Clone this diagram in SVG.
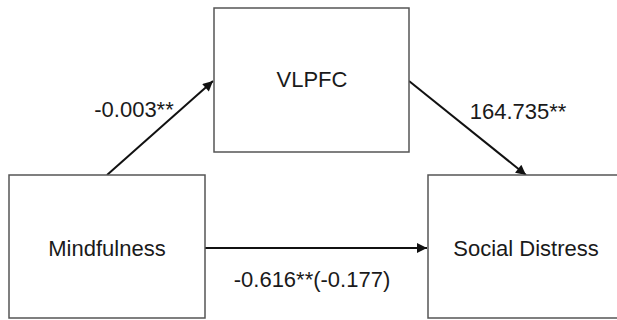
<svg xmlns="http://www.w3.org/2000/svg" width="617" height="320" viewBox="0 0 617 320">
<style>
.box{fill:#fff;stroke:#555;stroke-width:1.5}
.lbl{font-family:"Liberation Sans",Arial,sans-serif;font-size:22px;fill:#1a1a1a;text-anchor:middle}
.edge{stroke:#111;stroke-width:2;fill:none;marker-end:url(#ah)}
</style>
<defs>
<marker id="ah" viewBox="0 0 10 10" refX="10" refY="5" markerWidth="6" markerHeight="5" markerUnits="strokeWidth" orient="auto">
<path d="M0,0 L10,5 L0,10 z" fill="#111"/>
</marker>
</defs>
<rect width="617" height="320" fill="#fff"/>
<g id="connectors">
<line class="edge" x1="107" y1="175" x2="213" y2="81"/>
<line class="edge" x1="409" y1="81" x2="526" y2="175"/>
<line class="edge" x1="205" y1="248" x2="427" y2="248"/>
<text class="lbl" x="134" y="117">-0.003**</text>
<text class="lbl" x="518" y="119">164.735**</text>
<text class="lbl" x="312" y="287">-0.616**(-0.177)</text>
</g>
<g id="vlpfc">
<rect class="box" x="214" y="8" width="195" height="144"/>
<text class="lbl" x="312" y="87">VLPFC</text>
</g>
<g id="mindfulness">
<rect class="box" x="9" y="175" width="196" height="143"/>
<text class="lbl" x="107" y="256">Mindfulness</text>
</g>
<g id="social-distress">
<rect class="box" x="428" y="175" width="196" height="143"/>
<text class="lbl" x="526" y="256">Social Distress</text>
</g>
</svg>
